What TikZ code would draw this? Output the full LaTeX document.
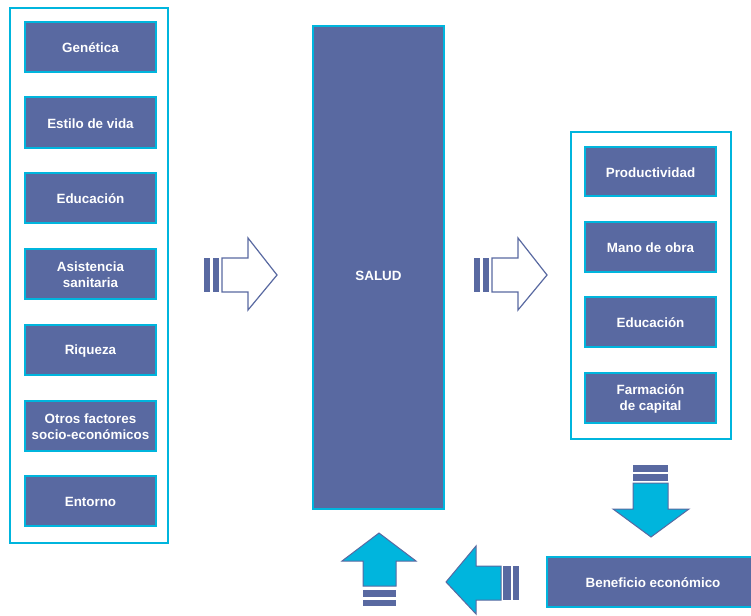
\documentclass[tikz,border=0pt]{standalone}
\usepackage{fontspec}
\setmainfont{Liberation Sans}
\definecolor{slate}{RGB}{89,105,161}
\definecolor{cyanb}{RGB}{0,181,221}
\tikzset{
  box/.style={draw=cyanb, line width=2pt, fill=slate, text=white, font=\fontsize{13.4}{15.8}\selectfont\bfseries, align=center, inner sep=0pt},
  boxtext/.style={box, draw=none, fill=none, yshift=-1pt},
  frame/.style={draw=cyanb, line width=2.5pt, fill=white},
  hollowarrow/.style={draw=slate, line width=1.2pt, fill=white, line join=miter},
  fullarrow/.style={draw=slate, line width=1pt, fill=cyanb, line join=miter},
  barfill/.style={fill=slate, draw=none}
}
\begin{document}
\begin{tikzpicture}[x=1pt,y=-1pt]
\useasboundingbox (0,0) rectangle (751,615);
% left container
\draw[frame] (10,8) rectangle (168,543);
\foreach \t/\b/\n/\txt in {22/72/gen/Genética, 97/148/est/Estilo de vida, 173/223/edu/Educación, 249/299/asi/Asistencia\\sanitaria, 325/375/riq/Riqueza, 401/451/otr/Otros factores\\socio-económicos, 476/526/ent/Entorno}{
  \path[box] (25,\t) rectangle (156,\b);
  \node[boxtext] (\n) at (90.5,{(\t+\b)/2}) {\txt};
}
% SALUD
\path[box] (313,26) rectangle (444,509);
\node[boxtext] (salud) at (378.5,275) {SALUD};
% right container
\draw[frame] (571,132) rectangle (731,439);
\foreach \t/\b/\n/\txt in {147/196/pro/Productividad, 222/272/man/Mano de obra, 297/347/ed2/Educación, 373/423/far/Farmación\\de capital}{
  \path[box] (585,\t) rectangle (716,\b);
  \node[boxtext] (\n) at (650.5,{(\t+\b)/2}) {\txt};
}
% Beneficio
\path[box] (547,557) rectangle (753,607);
\node[boxtext] (ben) at (653,582) {Beneficio económico};
% hollow right arrows
\foreach \dx in {0,270}{
  \begin{scope}[xshift=\dx]
    \fill[barfill] (204,258) rectangle (210,292);
    \fill[barfill] (212.5,258) rectangle (219,292);
    \draw[hollowarrow] (222,258) -- (248,258) -- (248,238) -- (277,275) -- (248,310) -- (248,292) -- (222,292) -- cycle;
  \end{scope}
}
% down arrow
\fill[barfill] (633,465) rectangle (668,472);
\fill[barfill] (633,474) rectangle (668,481);
\draw[fullarrow] (633,483) -- (668,483) -- (668,509) -- (689,509) -- (651,537) -- (613,509) -- (633,509) -- cycle;
% left arrow
\fill[barfill] (503,566) rectangle (511,600);
\fill[barfill] (513,566) rectangle (519,600);
\draw[fullarrow] (501,566) -- (501,600) -- (476,600) -- (476,614) -- (446,582) -- (476,546) -- (476,566) -- cycle;
% up arrow
\draw[fullarrow] (363,586) -- (396,586) -- (396,561) -- (416,561) -- (379,533) -- (342,561) -- (363,561) -- cycle;
\fill[barfill] (363,590) rectangle (396,597);
\fill[barfill] (363,600) rectangle (396,606);
\end{tikzpicture}
\end{document}
